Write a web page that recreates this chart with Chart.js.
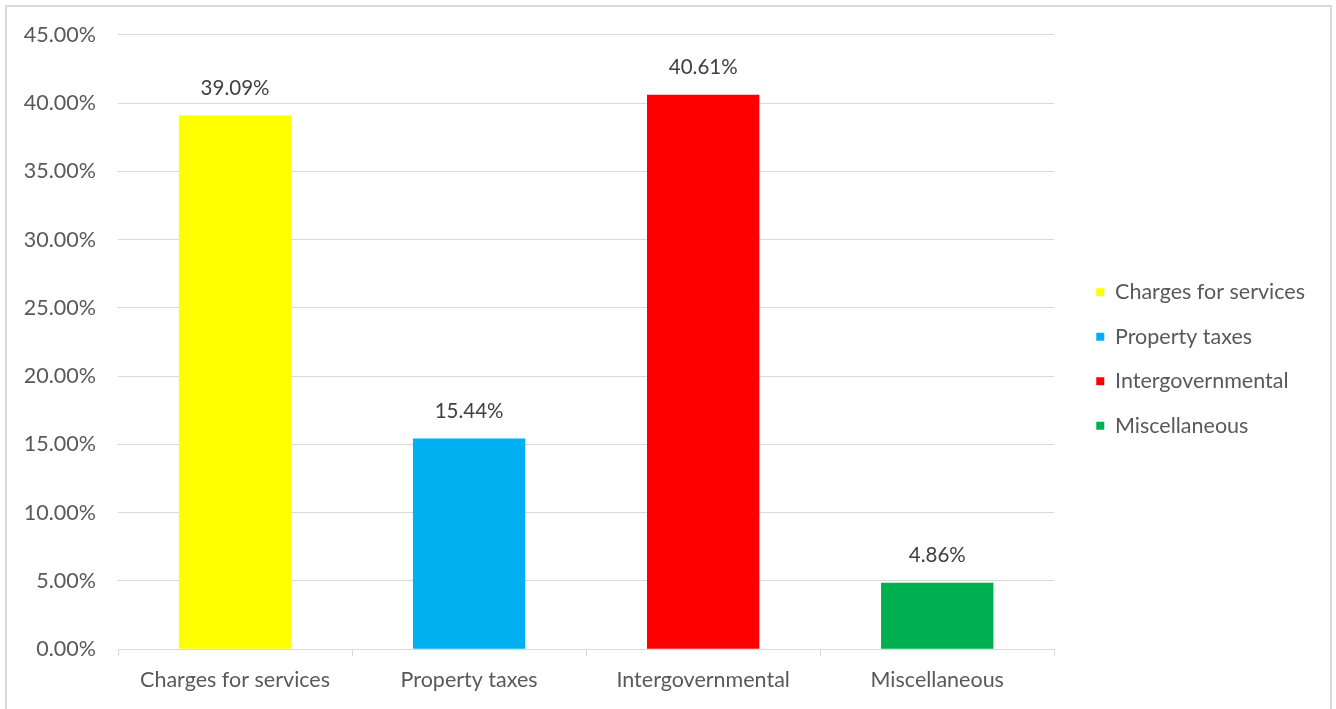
<!DOCTYPE html>
<html>
<head>
<meta charset="utf-8">
<script src="https://cdn.jsdelivr.net/npm/chart.js@4.4.0/dist/chart.umd.min.js"></script>
<style>
  html, body { margin: 0; padding: 0; background: #fff; overflow: hidden; }
  #frame { position: absolute; left: 5px; top: 5px; width: 1327px; height: 720px; border: 2px solid #d9d9d9; box-sizing: border-box; }
  #wrap { position: absolute; left: 0; top: 0; width: 1336px; height: 709px; }
</style>
</head>
<body>
<div id="frame"></div>
<div id="wrap"><canvas id="myChart"></canvas></div>
<script>
// catégories et valeurs (en %)
const categories = ['Charges for services', 'Property taxes', 'Intergovernmental', 'Miscellaneous'];
const values = [39.09, 15.44, 40.61, 4.86];
const colors = ['#ffff00', '#00b0f0', '#ff0000', '#00b050'];
const yTicks = [0, 5, 10, 15, 20, 25, 30, 35, 40, 45];

const FONT = 'Lato';
const LEGEND_SHIFT = 19;

// étiquettes de valeur au-dessus des barres
const valueLabels = {
    id: 'valueLabels',
    afterDatasetsDraw(chart) {
        const ctx = chart.ctx;
        const meta = chart.getDatasetMeta(0);
        ctx.save();
        ctx.font = '20.5px ' + FONT;
        ctx.fillStyle = '#404040';
        ctx.textAlign = 'center';
        ctx.textBaseline = 'middle';
        meta.data.forEach((bar, i) => {
            ctx.fillText(values[i].toFixed(2) + '%', bar.x, bar.y - 27);
        });
        ctx.restore();
    }
};

// espace supplémentaire entre le graphique et la légende
const legendGap = {
    id: 'legendGap',
    beforeLayout(chart) {
        const lg = chart.legend;
        if (!lg || lg._patched) return;
        const fit = lg.fit.bind(lg);
        lg.fit = function () { fit(); this.width += LEGEND_SHIFT; };
        const draw = lg.draw.bind(lg);
        lg.draw = function () {
            this.ctx.save();
            this.ctx.translate(LEGEND_SHIFT, -6);
            draw();
            this.ctx.restore();
        };
        lg._patched = true;
    }
};

const ctx = document.getElementById('myChart').getContext('2d');
window.myChart = new Chart(ctx, {
    type: 'bar',
    data: {
        labels: categories,
        datasets: [{
            data: values,
            backgroundColor: colors,
            categoryPercentage: 1,
            barPercentage: 0.48,
        }],
    },
    options: {
        responsive: true,
        maintainAspectRatio: false,
        animation: false,
        layout: { padding: { left: 0, right: 21, top: 26, bottom: 5 } },
        plugins: {
            tooltip: { enabled: false },
            legend: {
                position: 'right',
                labels: {
                    font: { family: FONT, size: 21.5 },
                    color: '#595959',
                    boxWidth: 8,
                    boxHeight: 8,
                    padding: 23,
                    generateLabels: () => categories.map((c, i) => ({
                        text: c,
                        fillStyle: colors[i],
                        strokeStyle: colors[i],
                        fontColor: '#595959',
                        lineWidth: 0,
                        index: i,
                    })),
                },
            },
        },
        scales: {
            x: {
                grid: {
                    drawOnChartArea: false,
                    drawTicks: true,
                    tickLength: 7,
                    color: '#d9d9d9',
                },
                border: { color: '#d9d9d9', width: 1 },
                ticks: {
                    font: { family: FONT, size: 21.5 },
                    color: '#595959',
                    padding: 11,
                },
            },
            y: {
                min: 0,
                max: 45,
                afterBuildTicks: (axis) => {
                    axis.ticks = yTicks.map(v => ({ value: v }));
                },
                afterFit: (axis) => { axis.width = 118; },
                grid: { color: '#d9d9d9', drawTicks: false },
                border: { display: false },
                ticks: {
                    font: { family: FONT, size: 21.5 },
                    color: '#595959',
                    padding: 22,
                    callback: (v) => v.toFixed(2) + '%',
                },
            },
        },
    },
    plugins: [valueLabels, legendGap],
});
</script>
</body>
</html>
